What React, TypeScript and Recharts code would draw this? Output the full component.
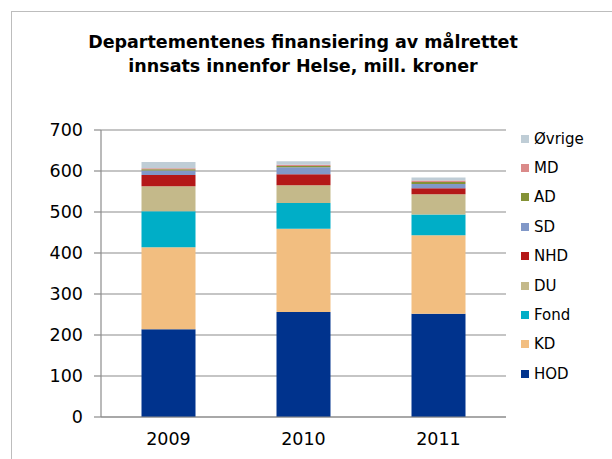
import React from "react";
import { BarChart, Bar, XAxis, YAxis, CartesianGrid, Legend } from "recharts";

const years = ["2009", "2010", "2011"];
const hod = [214, 256, 252];
const kd = [200, 203, 191];
const fond = [88, 63, 51];
const du = [61, 43, 49];
const nhd = [27, 27, 15];
const sd = [11, 17, 10];
const ad = [3, 3, 5];
const md = [3, 3, 4];
const ovrige = [15, 9, 7];
const yTicks = [0, 100, 200, 300, 400, 500, 600, 700];
const edgeTicks = [0, 1, 2, 3];

const SERIES = [
  { key: "HOD", values: hod, color: "#00338D" },
  { key: "KD", values: kd, color: "#F2BE80" },
  { key: "Fond", values: fond, color: "#00AEC7" },
  { key: "DU", values: du, color: "#C4B98A" },
  { key: "NHD", values: nhd, color: "#B41818" },
  { key: "SD", values: sd, color: "#8198C8" },
  { key: "AD", values: ad, color: "#849236" },
  { key: "MD", values: md, color: "#DA8A89" },
  { key: "Øvrige", values: ovrige, color: "#BFCDD6" },
];

const data = years.map((year, i) => {
  const row: any = { year };
  SERIES.forEach((s) => (row[s.key] = s.values[i]));
  return row;
});

const FONT = "'DejaVu Sans', Verdana, sans-serif";
const GRAY = "#8c8c8c";

// legend in Excel order: last series on top
const CustomLegend = () => (
  <div style={{ fontFamily: FONT, fontSize: 15, color: "#000" }}>
    {[...SERIES].reverse().map((s) => (
      <div
        key={s.key}
        style={{ display: "flex", alignItems: "center", height: 29.4 }}
      >
        <span
          style={{
            display: "inline-block",
            width: 8,
            height: 8,
            background: s.color,
            marginRight: 5,
          }}
        />
        <span>{s.key}</span>
      </div>
    ))}
  </div>
);

export default function App() {
  return (
    <div
      style={{
        position: "fixed",
        left: 0,
        top: 0,
        width: 612,
        height: 459,
        background: "#fff",
        overflow: "hidden",
      }}
    >
      <div
        style={{
          position: "absolute",
          left: 11,
          top: 11,
          width: 700,
          height: 600,
          borderLeft: "1px solid #bdbdbd",
          borderTop: "1px solid #bdbdbd",
        }}
      />
      <div
        style={{
          position: "absolute",
          left: 0,
          width: 606,
          top: 30,
          textAlign: "center",
          fontFamily: FONT,
          fontWeight: "bold",
          fontSize: 17.5,
          lineHeight: "24px",
          color: "#000",
        }}
      >
        Departementenes finansiering av målrettet
        <br />
        innsats innenfor Helse, mill. kroner
      </div>
      <BarChart
        width={612}
        height={459}
        data={data}
        margin={{ top: 130, right: 16, left: 0, bottom: 0 }}
        barCategoryGap="30%"
        style={{ position: "absolute", left: 0, top: 0 }}
      >
        <CartesianGrid
          xAxisId="cat"
          vertical={false}
          stroke={GRAY}
          strokeWidth={1.2}
        />
        {/* boundary tick marks, Excel style */}
        <XAxis
          type="number"
          domain={[0, 3]}
          ticks={edgeTicks}
          tick={false}
          tickSize={5}
          height={1}
          stroke={GRAY}
          strokeWidth={1.2}
        />
        <XAxis
          xAxisId="cat"
          dataKey="year"
          height={41}
          axisLine={false}
          tickLine={false}
          tickSize={0}
          tickMargin={15}
          tick={{ fill: "#000", fontSize: 17.5, fontFamily: FONT }}
        />
        <YAxis
          width={101}
          domain={[0, 700]}
          ticks={yTicks}
          tickSize={7}
          tickMargin={11}
          stroke={GRAY}
          strokeWidth={1.2}
          tick={{ fill: "#000", fontSize: 17.5, fontFamily: FONT }}
        />
        <Legend
          layout="vertical"
          align="right"
          verticalAlign="top"
          content={<CustomLegend />}
          wrapperStyle={{ left: 521, top: 124, width: 90 }}
        />
        {SERIES.map((s) => (
          <Bar
            key={s.key}
            xAxisId="cat"
            dataKey={s.key}
            stackId="a"
            fill={s.color}
            isAnimationActive={false}
          />
        ))}
      </BarChart>
    </div>
  );
}
